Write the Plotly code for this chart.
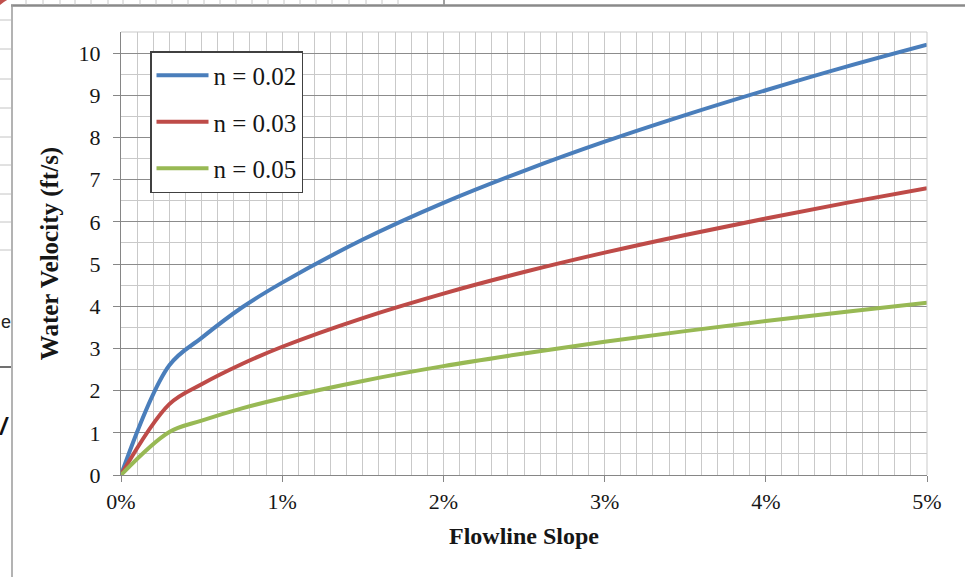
import plotly.graph_objects as go

# Flowline slope (fraction) and water velocity (ft/s) for three Manning's n values
slopes = [0, 0.003, 0.005, 0.0075, 0.01, 0.015, 0.02, 0.025, 0.03, 0.035, 0.04, 0.045, 0.05]
vel_n002 = [0, 2.6, 3.25, 3.97, 4.56, 5.58, 6.45, 7.21, 7.9, 8.53, 9.12, 9.68, 10.2]
vel_n003 = [0, 1.68, 2.15, 2.63, 3.04, 3.72, 4.30, 4.81, 5.27, 5.69, 6.08, 6.45, 6.8]
vel_n005 = [0, 1.02, 1.29, 1.58, 1.82, 2.23, 2.58, 2.88, 3.16, 3.41, 3.65, 3.87, 4.08]
series_names = ["n = 0.02", "n = 0.03", "n = 0.05"]
series_colors = ["#4A7EBB", "#BE4B48", "#98B954"]
x_ticks = [0, 0.01, 0.02, 0.03, 0.04, 0.05]
y_ticks = list(range(0, 11))

SERIF = "Liberation Serif, Times New Roman, serif"
INK = "#161616"
MINOR_GRID = "#C9C9C9"

fig = go.Figure()
for name, vals, col in zip(series_names, [vel_n002, vel_n003, vel_n005], series_colors):
    fig.add_trace(go.Scatter(
        x=slopes, y=vals, name=name, legendgroup=name,
        mode="lines", line=dict(color=col, width=4, shape="spline", smoothing=1.0),
        hoverinfo="skip",
    ))

# Plot-area geometry in pixels (for placing the surrounding frame decorations)
L, R, T, B = 121, 927, 32, 475
W_PX, H_PX = 965, 577


def fx(p):
    return (p - L) / (R - L)


def fy(p):
    return (B - p) / (B - T)


shapes = []
# light outline on the top and right edges of the plot area
shapes.append(dict(type="line", xref="paper", yref="paper", x0=0, x1=1, y0=1, y1=1,
                   line=dict(color=MINOR_GRID, width=1)))
shapes.append(dict(type="line", xref="paper", yref="paper", x0=1, x1=1, y0=0, y1=1,
                   line=dict(color=MINOR_GRID, width=1)))
# chart-area frame
shapes.append(dict(type="line", xref="paper", yref="paper", x0=fx(11), x1=fx(W_PX + 5),
                   y0=fy(5.5), y1=fy(5.5), line=dict(color="#8A8A8A", width=2.5)))
shapes.append(dict(type="line", xref="paper", yref="paper", x0=fx(12), x1=fx(12),
                   y0=fy(5), y1=fy(H_PX + 5), line=dict(color="#9A9A9A", width=1.5)))
# worksheet cells peeking around the frame
for yp in [20, 49, 79, 108, 137, 165, 194, 222, 250]:
    shapes.append(dict(type="line", xref="paper", yref="paper", x0=fx(-2), x1=fx(11),
                       y0=fy(yp), y1=fy(yp), line=dict(color="#C4C4C4", width=1)))
shapes.append(dict(type="line", xref="paper", yref="paper", x0=fx(-2), x1=fx(11),
                   y0=fy(367), y1=fy(367), line=dict(color="#707070", width=2)))
for xp in [26, 43, 60, 75, 91, 108, 123, 140, 156, 172, 188, 204, 220, 236, 252,
           268, 284, 300, 316, 332, 349, 366, 382, 398]:
    shapes.append(dict(type="line", xref="paper", yref="paper", x0=fx(xp), x1=fx(xp),
                       y0=fy(-2), y1=fy(4.5), line=dict(color="#C8C8C8", width=1)))
shapes.append(dict(type="line", xref="paper", yref="paper", x0=fx(444), x1=fx(444),
                   y0=fy(-2), y1=fy(4.5), line=dict(color="#808080", width=1.5)))
shapes.append(dict(type="path", xref="paper", yref="paper",
                   path=f"M {fx(-1)},{fy(-1)} L {fx(9)},{fy(-1)} Q {fx(3)},{fy(2)} {fx(-1)},{fy(6)} Z",
                   fillcolor="#C0504D", line=dict(width=0)))

annotations = [
    dict(xref="paper", yref="paper", x=fx(-1), y=fy(322), text="e", showarrow=False,
         xanchor="left", yanchor="middle", font=dict(family="Liberation Sans, Arial", size=18, color="#222")),
    dict(xref="paper", yref="paper", x=fx(-3), y=fy(426), text="<b><i>/</i></b>", showarrow=False,
         xanchor="left", yanchor="middle", font=dict(family="Liberation Sans, Arial", size=24, color="#111")),
]

fig.update_layout(
    width=W_PX, height=H_PX,
    margin=dict(l=L, r=W_PX - R, t=T, b=H_PX - B, pad=0),
    paper_bgcolor="white", plot_bgcolor="white",
    font=dict(family=SERIF, size=22, color=INK),
    showlegend=True,
    legend=dict(
        x=fx(150), y=fy(51), xanchor="left", yanchor="top",
        bgcolor="white", bordercolor="#404040", borderwidth=1.5,
        font=dict(family=SERIF, size=25, color=INK),
        traceorder="grouped", tracegroupgap=11, itemwidth=52,
        entrywidth=163, entrywidthmode="pixels",
    ),
    shapes=shapes,
    annotations=annotations,
)

fig.update_xaxes(
    range=[0, 0.05], tickvals=x_ticks, tickformat=".0%",
    tickfont=dict(family=SERIF, size=22, color=INK),
    showline=True, linecolor="#868686", linewidth=1.3,
    ticks="outside", ticklen=6, tickcolor="#868686", tickwidth=1.3,
    ticklabelstandoff=0,
    showgrid=True, gridcolor=MINOR_GRID, gridwidth=1,
    minor=dict(dtick=0.001, showgrid=True, gridcolor=MINOR_GRID, gridwidth=1, ticks=""),
    zeroline=False,
    title=dict(text="<b>Flowline Slope</b>", font=dict(family=SERIF, size=24, color=INK), standoff=14),
)
fig.update_yaxes(
    range=[0, 10.5], tickvals=y_ticks,
    tickfont=dict(family=SERIF, size=22, color=INK),
    showline=True, linecolor="#868686", linewidth=1.3,
    ticks="outside", ticklen=7, tickcolor="#868686", tickwidth=1.3,
    ticklabelstandoff=8,
    showgrid=True, gridcolor="#8C8C8C", gridwidth=1,
    minor=dict(dtick=0.5, showgrid=True, gridcolor=MINOR_GRID, gridwidth=1, ticks=""),
    zeroline=False,
    title=dict(text="<b>Water Velocity (ft/s)</b>", font=dict(family=SERIF, size=25, color=INK), standoff=12),
)

fig.write_html("out.html")
